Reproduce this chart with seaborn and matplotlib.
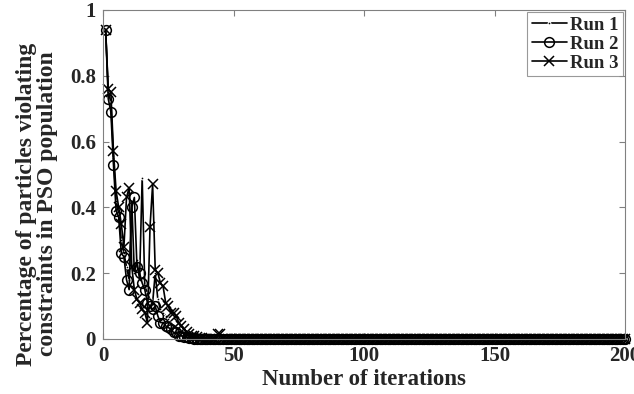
import matplotlib
matplotlib.use("Agg")
import matplotlib.pyplot as plt
import seaborn as sns
import pandas as pd

iterations = list(range(1, 201))

run1_head = [0.94, 0.75, 0.72, 0.55, 0.42, 0.38, 0.30, 0.26, 0.22, 0.18,
             0.42, 0.20, 0.24, 0.18, 0.49, 0.16, 0.14, 0.12, 0.11, 0.20,
             0.12, 0.09, 0.08, 0.07, 0.06, 0.05, 0.04, 0.035, 0.03, 0.02,
             0.02, 0.015, 0.01, 0.01, 0.008, 0.005, 0.004, 0.003, 0.002, 0.001]
run2_head = [0.94, 0.73, 0.69, 0.53, 0.39, 0.37, 0.26, 0.25, 0.18, 0.15,
             0.40, 0.43, 0.22, 0.20, 0.17, 0.15, 0.11, 0.10, 0.09, 0.10,
             0.07, 0.05, 0.05, 0.04, 0.035, 0.03, 0.02, 0.02, 0.01, 0.01,
             0.005, 0.005, 0.003, 0.002, 0.001]
run3_head = [0.94, 0.76, 0.75, 0.57, 0.45, 0.40, 0.35, 0.28, 0.43, 0.46,
             0.22, 0.15, 0.12, 0.11, 0.09, 0.08, 0.05, 0.34, 0.47, 0.21,
             0.20, 0.17, 0.16, 0.11, 0.10, 0.08, 0.08, 0.07, 0.05, 0.04,
             0.03, 0.02, 0.015, 0.01, 0.008, 0.005, 0.003, 0.002, 0.0, 0.0,
             0.0, 0.0, 0.0, 0.015, 0.015]

run1 = run1_head + [0.0] * (200 - len(run1_head))
run2 = run2_head + [0.0] * (200 - len(run2_head))
run3 = run3_head + [0.0] * (200 - len(run3_head))

x_ticks = [0, 50, 100, 150, 200]
y_ticks = [0, 0.2, 0.4, 0.6, 0.8, 1.0]
y_tick_labels = ["0", "0.2", "0.4", "0.6", "0.8", "1"]

sns.set_style("ticks")
plt.rcParams["font.family"] = ["Liberation Serif", "DejaVu Serif"]
plt.rcParams["font.weight"] = "bold"

fig = plt.figure(figsize=(6.34, 3.94), dpi=100)
ax = fig.add_axes([0.1625, 0.1396, 0.8235, 0.8354])

df = pd.DataFrame({"it": iterations, "r1": run1, "r2": run2, "r3": run3})

sns.lineplot(data=df, x="it", y="r1", ax=ax, color="black", lw=1.2,
             marker=".", markersize=4, clip_on=False, label="Run 1")
sns.lineplot(data=df, x="it", y="r2", ax=ax, color="black", lw=1.2,
             marker="o", markersize=7, markerfacecolor="none",
             markeredgecolor="black", markeredgewidth=1.1, clip_on=False,
             label="Run 2")
sns.lineplot(data=df, x="it", y="r3", ax=ax, color="black", lw=1.2,
             marker="x", markersize=7, markeredgecolor="black",
             markeredgewidth=1.1, clip_on=False, label="Run 3")

ax.set_xlim(0, 200)
ax.set_ylim(0, 1)
ax.set_xticks(x_ticks)
ax.set_xticklabels([str(t) for t in x_ticks])
ax.set_yticks(y_ticks)
ax.set_yticklabels(y_tick_labels)
ax.tick_params(direction="in", top=True, right=True, length=4, width=0.8,
               color="#808080", labelsize=15, pad=5)
for lab in ax.get_xticklabels() + ax.get_yticklabels():
    lab.set_fontweight("bold")
for sp in ax.spines.values():
    sp.set_visible(True)
    sp.set_color("#808080")
    sp.set_linewidth(0.8)

ax.set_xlabel("Number of iterations", fontsize=16.5, fontweight="bold", labelpad=2)
ax.set_ylabel("Percentage of particles violating\nconstraints in PSO population",
              fontsize=17, fontweight="bold", linespacing=1.0)
ax.yaxis.set_label_coords(-0.086, 0.41)

leg = ax.legend(loc="upper right", frameon=True, fancybox=False,
                borderaxespad=0.1, handlelength=1.9, handletextpad=0.15,
                labelspacing=0.1, borderpad=0.25,
                prop={"family": "Liberation Serif", "weight": "bold", "size": 13.5})
leg.get_frame().set_edgecolor("#808080")
leg.get_frame().set_linewidth(0.8)

fig.savefig("out.png", dpi=100)
